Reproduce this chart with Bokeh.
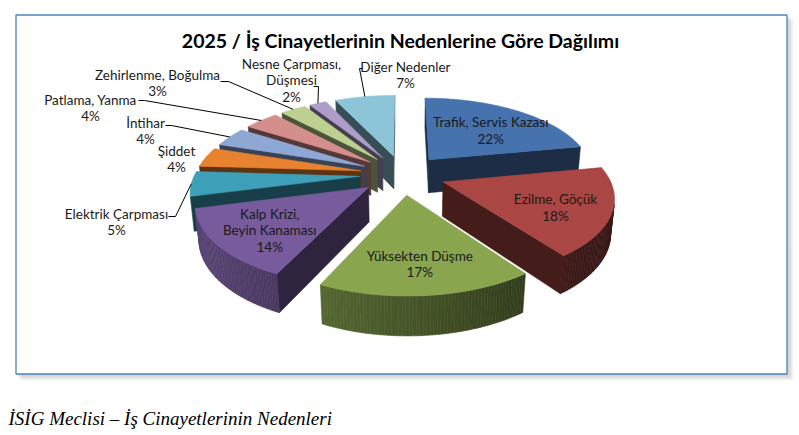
import numpy as np
from bokeh.plotting import figure
from bokeh.models import Range1d, ColumnDataSource
from bokeh.core.properties import value
from bokeh.embed import file_html
from bokeh.resources import INLINE

chart_title = "2025 / İş Cinayetlerinin Nedenlerine Göre Dağılımı"
caption = "İSİG Meclisi – İş Cinayetlerinin Nedenleri"

causes = [["Trafik, Servis Kazası"], ["Ezilme, Göçük"], ["Yüksekten Düşme"],
          ["Kalp Krizi,", "Beyin Kanaması"], ["Elektrik Çarpması"], ["Şiddet"],
          ["İntihar"], ["Patlama, Yanma"], ["Zehirlenme, Boğulma"],
          ["Nesne Çarpması,", "Düşmesi"], ["Diğer Nedenler"]]
shares = [22, 18, 17, 14, 5, 4, 4, 4, 3, 2, 7]
slice_colors = ["#4672ae", "#aa4643", "#89a54e", "#775b9c", "#3d9fb8", "#e8822f",
                "#8ea8d6", "#d48f8c", "#bcd08f", "#ad9dc8", "#8cc4d8"]

# labels placed outside the pie (manual placement, like in the workbook)
outside = {
    4: dict(at=(116, 213), hook=[(168, 216), (175, 216)]),
    5: dict(at=(176, 150), hook=None),
    6: dict(at=(145, 122), hook=[(165, 125), (171, 125)]),
    7: dict(at=(90, 99), hook=[(138, 100), (144, 100)]),
    8: dict(at=(157, 74), hook=[(220, 81), (228, 81)]),
    9: dict(at=(291, 63), hook=[(313, 86), (318, 86)]),
    10: dict(at=(405, 66), hook=[(362, 68), (359, 68)]),
}

# view of the 3d pie, in page pixels
CX, CY = 402, 174
SX, SY = 165, 174
TILT = np.radians(26)
cs, sn = np.cos(TILT), np.sin(TILT)
DIST = 6.0 * cs
EXPLODE = 0.26
DEPTH = 0.22
cam = np.array([0.0, DIST * sn, DIST * cs])


def project(X, Y, Z):
    X, Y, Z = np.asarray(X, float), np.asarray(Y, float), np.asarray(Z, float)
    w = DIST - (Z * cs + Y * sn)
    return CX + SX * DIST * X / w, CY + SY * DIST * (Z * sn - Y * cs) / w


def shade(color, f):
    r, g, b = (int(color[i:i + 2], 16) for i in (1, 3, 5))
    return "#%02x%02x%02x" % tuple(int(min(255, c * f)) for c in (r, g, b))


def facing(n, p):
    return np.dot(n, cam - p) > 0


frac = np.array(shares) / sum(shares)
ends = 90 - 360 * np.cumsum(frac)
starts = np.concatenate([[90], ends[:-1]])
mids = (starts + ends) / 2

pieces = []
for i, col in enumerate(slice_colors):
    ta, tb, tm = np.radians([starts[i], ends[i], mids[i]])
    ax, az = EXPLODE * np.cos(tm), -EXPLODE * np.sin(tm)
    key = az - 0.5 * np.sin(tm)
    faces = []

    # radial faces
    for t, nt in ((ta, ta + np.pi / 2), (tb, tb - np.pi / 2)):
        n = np.array([np.cos(nt), 0, -np.sin(nt)])
        p = np.array([ax + 0.5 * np.cos(t), -DEPTH / 2, az - 0.5 * np.sin(t)])
        if facing(n, p):
            rx, rz = ax + np.cos(t), az - np.sin(t)
            xs, ys = project([ax, rx, rx, ax], [0, 0, -DEPTH, -DEPTH], [az, rz, rz, az])
            faces.append((xs, ys, shade(col, 0.4)))

    # curved outer wall
    th = np.linspace(ta, tb, max(3, int(abs(starts[i] - ends[i])) + 2))
    for k in range(len(th) - 1):
        t = (th[k] + th[k + 1]) / 2
        n = np.array([np.cos(t), 0, -np.sin(t)])
        p = np.array([ax + np.cos(t), -DEPTH / 2, az - np.sin(t)])
        if not facing(n, p):
            continue
        t2 = th[k:k + 2]
        X = ax + np.cos(np.r_[t2, t2[::-1]])
        Z = az - np.sin(np.r_[t2, t2[::-1]])
        xs, ys = project(X, [0, 0, -DEPTH, -DEPTH], Z)
        f = float(np.clip(0.52 - 0.25 * np.cos(t), 0.34, 0.8))
        faces.append((xs, ys, shade(col, f)))

    # top
    th = np.linspace(ta, tb, 90)
    xs, ys = project(np.r_[ax, ax + np.cos(th)], np.zeros(91), np.r_[az, az - np.sin(th)])
    faces.append((xs, ys, col))
    pieces.append((key, faces))

pieces.sort(key=lambda q: q[0])
poly = dict(xs=[], ys=[], c=[])
for _, faces in pieces:
    for xs, ys, c in faces:
        poly["xs"].append(list(xs))
        poly["ys"].append(list(ys))
        poly["c"].append(c)

p = figure(width=799, height=435, output_backend="svg", toolbar_location=None,
           x_range=Range1d(0, 799), y_range=Range1d(435, 0),
           min_border=0, outline_line_color=None, background_fill_color="white")
p.axis.visible = False
p.grid.visible = False

# chart box with soft shadow
for k in range(1, 7):
    p.quad(left=15 + k, right=787 + k, top=14 + k, bottom=374 + k,
           fill_color="#808080", fill_alpha=0.07, line_color=None)
p.quad(left=15.5, right=786.5, top=14.5, bottom=373.5, fill_color="white",
       line_color="#4f81bd", line_width=1.3)

p.patches("xs", "ys", source=ColumnDataSource(poly), fill_color="c",
          line_color="c", line_width=0.6)

# labels
lx, ly, lt = [], [], []
leaders = dict(xs=[], ys=[])
for i, lines in enumerate(causes):
    text = lines + ["%d%%" % shares[i]]
    if i in outside:
        x0, y0 = outside[i]["at"]
        hook = outside[i]["hook"]
        if hook:
            tm = np.radians(mids[i])
            ax, az = EXPLODE * np.cos(tm), -EXPLODE * np.sin(tm)
            ex, ey = project(ax + np.cos(tm), 0, az - np.sin(tm))
            leaders["xs"].append([hook[0][0], hook[1][0], float(ex)])
            leaders["ys"].append([hook[0][1], hook[1][1], float(ey)])
    else:
        tm = np.radians(mids[i])
        r = EXPLODE + 0.68
        x0, y0 = project(r * np.cos(tm), 0, -r * np.sin(tm))
        y0 = float(y0) + 5 - 8.3 * (len(text) - 1)
    for j, s in enumerate(text):
        lx.append(float(x0))
        ly.append(float(y0) + 16.6 * j)
        lt.append(s)

p.multi_line("xs", "ys", source=ColumnDataSource(leaders), line_color="black",
             line_width=1)
p.text(lx, ly, text=lt, text_font=value("Lato"), text_font_size="13.5px",
       text_align="center", text_baseline="middle", text_color="#1a1a1a")

p.text([400], [40], text=[chart_title], text_font=value("Lato"),
       text_font_size="19.5px", text_font_style="bold", text_align="center",
       text_baseline="middle", text_color="black")
p.text([8], [418], text=[caption], text_font=value("Liberation Serif"),
       text_font_size="19px", text_font_style="italic", text_align="left",
       text_baseline="middle", text_color="black")

open("out.html", "w").write(file_html(p, INLINE))
